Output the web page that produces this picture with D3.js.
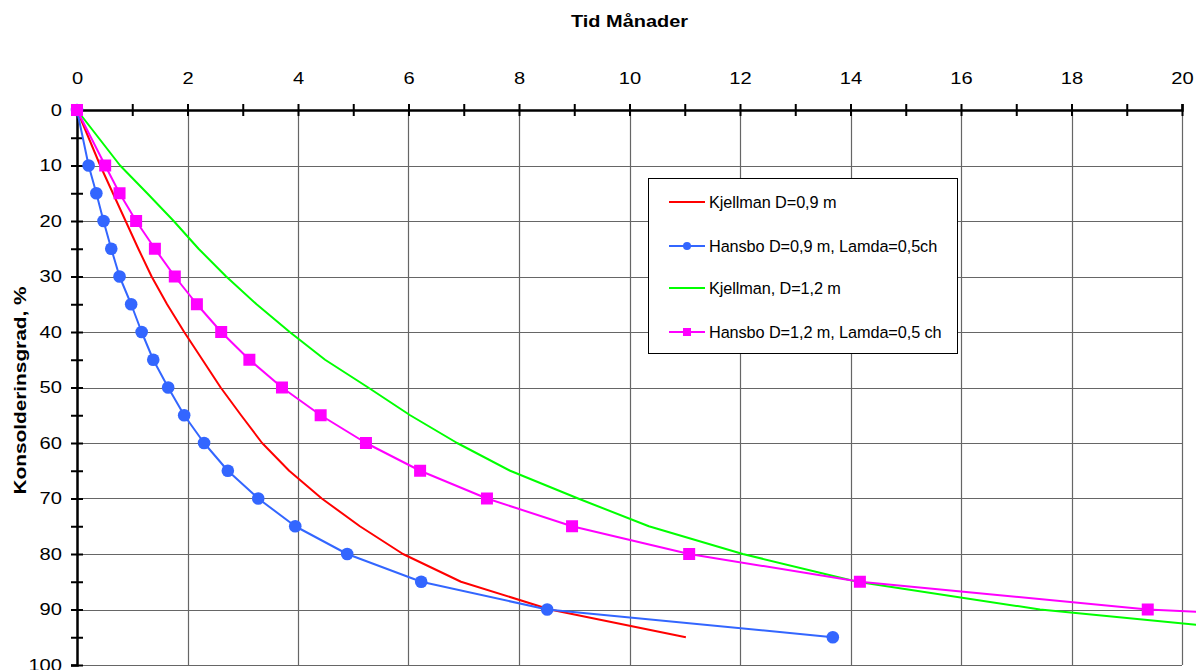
<!DOCTYPE html>
<html>
<head>
<meta charset="utf-8">
<script src="https://cdn.jsdelivr.net/npm/d3@7"></script>
<style>
  body { margin: 0; background: #fff; }
  svg { display: block; }
  text { font-family: "Liberation Sans", Arial, sans-serif; fill: #000; }
</style>
</head>
<body>
<svg id="chart-container" width="1196" height="670"></svg>
<script>
// Konsolideringsgrad (%) and time in months
var pctSteps = [0, 10, 15, 20, 25, 30, 35, 40, 45, 50, 55, 60, 65, 70, 75, 80, 85, 90, 95];

var kjellman09 = [0, 0.42, 0.65, 0.88, 1.11, 1.35, 1.63, 1.94, 2.27, 2.6, 2.97, 3.35, 3.84, 4.43, 5.12, 5.9, 6.95, 8.56, 11.02];
var hansbo09   = [0, 0.21, 0.35, 0.48, 0.62, 0.77, 0.98, 1.17, 1.38, 1.65, 1.94, 2.3, 2.73, 3.28, 3.95, 4.89, 6.23, 8.51, 13.68];
var kjellman12 = [0, 0.78, 1.27, 1.75, 2.2, 2.7, 3.25, 3.85, 4.49, 5.27, 6.03, 6.88, 7.84, 9.07, 10.35, 12.05, 14.12, 17.43, 22.6];
var hansbo12   = [0, 0.51, 0.77, 1.07, 1.41, 1.77, 2.17, 2.61, 3.12, 3.71, 4.41, 5.23, 6.21, 7.42, 8.96, 11.08, 14.17, 19.38, 30.4];

var seriesNames = ["Kjellman D=0,9 m", "Hansbo D=0,9 m, Lamda=0,5ch", "Kjellman, D=1,2 m", "Hansbo D=1,2 m, Lamda=0,5 ch"];
var seriesColors = ["#ff0000", "#3366ff", "#00ff00", "#ff00ff"];
var seriesMarkers = ["none", "circle", "none", "square"];

var xMajorTicks = [0, 2, 4, 6, 8, 10, 12, 14, 16, 18, 20];
var xMinorTicks = [1, 3, 5, 7, 9, 11, 13, 15, 17, 19];
var yMajorTicks = [0, 10, 20, 30, 40, 50, 60, 70, 80, 90, 100];
var yMinorTicks = [5, 15, 25, 35, 45, 55, 65, 75, 85, 95];

var svg = d3.select("#chart-container");
var margin = { top: 110, left: 77 };
var width = 1105, height = 555;

var x = d3.scaleLinear().domain([0, 20]).range([margin.left, margin.left + width]);
var y = d3.scaleLinear().domain([0, 100]).range([margin.top, margin.top + height]);

// Grid
var grid = svg.append("g").attr("stroke", "#666").attr("stroke-width", 1.2);
grid.selectAll(".vg")
    .data(xMajorTicks.slice(1))
    .join("line")
    .attr("x1", d => Math.round(x(d)) + 0.5)
    .attr("x2", d => Math.round(x(d)) + 0.5)
    .attr("y1", y(0))
    .attr("y2", y(100));
grid.selectAll(".hg")
    .data(yMajorTicks.slice(1))
    .join("line")
    .attr("x1", x(0))
    .attr("x2", x(20))
    .attr("y1", d => Math.round(y(d)) + 0.5)
    .attr("y2", d => Math.round(y(d)) + 0.5);

// Axes (ticks cross the axis line)
var xAxis = svg.append("g")
    .attr("transform", `translate(0, ${y(0)})`)
    .call(d3.axisTop(x).tickValues(xMajorTicks.concat(xMinorTicks))
        .tickFormat(d => xMajorTicks.includes(d) ? d : "")
        .tickSizeOuter(0).tickSize(6).tickPadding(20));
xAxis.select(".domain").attr("stroke-width", 2.5);
xAxis.selectAll(".tick line").attr("y1", 6).attr("y2", -6).attr("stroke-width", 2);
xAxis.selectAll(".tick text")
    .attr("font-size", 17)
    .attr("font-family", "Liberation Sans, Arial, sans-serif")
    .attr("textLength", function() { return this.textContent.length * 11.2; })
    .attr("lengthAdjust", "spacingAndGlyphs");

var yAxis = svg.append("g")
    .attr("transform", `translate(${x(0)}, 0)`)
    .call(d3.axisLeft(y).tickValues(yMajorTicks.concat(yMinorTicks))
        .tickFormat(d => yMajorTicks.includes(d) ? d : "")
        .tickSizeOuter(0).tickSize(6).tickPadding(9));
yAxis.select(".domain").attr("stroke-width", 2.5);
yAxis.selectAll(".tick line").attr("x1", 6).attr("x2", -6).attr("stroke-width", 2);
yAxis.selectAll(".tick text")
    .attr("font-size", 17)
    .attr("font-family", "Liberation Sans, Arial, sans-serif")
    .attr("textLength", function() { return this.textContent.length * 11.2; })
    .attr("lengthAdjust", "spacingAndGlyphs");

// Titles
svg.append("text")
    .attr("x", (x(0) + x(20)) / 2)
    .attr("y", 27)
    .attr("text-anchor", "middle")
    .attr("font-size", 16.5)
    .attr("font-weight", "bold")
    .attr("textLength", 117)
    .attr("lengthAdjust", "spacingAndGlyphs")
    .text("Tid Månader");

svg.append("text")
    .attr("transform", `translate(26, ${(y(0) + y(100)) / 2 + 3}) rotate(-90)`)
    .attr("text-anchor", "middle")
    .attr("font-size", 17)
    .attr("font-weight", "bold")
    .attr("textLength", 208)
    .attr("lengthAdjust", "spacingAndGlyphs")
    .text("Konsolderinsgrad, %");

// Series
var seriesData = [kjellman09, hansbo09, kjellman12, hansbo12];
var line = d3.line().x(d => x(d[0])).y(d => y(d[1]));

seriesData.forEach(function(vals, i) {
    var pts = vals.map((v, j) => [v, pctSteps[j]]);
    var g = svg.append("g");
    g.append("path")
        .datum(pts)
        .attr("fill", "none")
        .attr("stroke", seriesColors[i])
        .attr("stroke-width", 2)
        .attr("stroke-linejoin", "round")
        .attr("d", line);
    if (seriesMarkers[i] == "circle") {
        g.selectAll("circle")
            .data(pts)
            .join("circle")
            .attr("cx", d => x(d[0]))
            .attr("cy", d => y(d[1]))
            .attr("r", 6.3)
            .attr("fill", seriesColors[i]);
    } else if (seriesMarkers[i] == "square") {
        g.selectAll("rect")
            .data(pts)
            .join("rect")
            .attr("x", d => x(d[0]) - 6)
            .attr("y", d => y(d[1]) - 6)
            .attr("width", 12)
            .attr("height", 12)
            .attr("fill", seriesColors[i]);
    }
});

// Legend
var legend = svg.append("g").attr("transform", "translate(648, 178)");
legend.append("rect")
    .attr("x", 0.5).attr("y", 0.5)
    .attr("width", 309).attr("height", 175)
    .attr("fill", "#fff")
    .attr("stroke", "#000")
    .attr("stroke-width", 1);

var rowY = [24, 68, 110, 154];
seriesNames.forEach(function(name, i) {
    var row = legend.append("g").attr("transform", `translate(0, ${rowY[i]})`);
    row.append("line")
        .attr("x1", 21).attr("x2", 57)
        .attr("stroke", seriesColors[i])
        .attr("stroke-width", 2);
    if (seriesMarkers[i] == "circle") {
        row.append("circle").attr("cx", 39).attr("r", 4).attr("fill", seriesColors[i]);
    } else if (seriesMarkers[i] == "square") {
        row.append("rect").attr("x", 35).attr("y", -4).attr("width", 8).attr("height", 8).attr("fill", seriesColors[i]);
    }
    row.append("text")
        .attr("x", 61)
        .attr("y", 5.5)
        .attr("font-size", 16.3)
        .attr("letter-spacing", -0.1)
        .text(name);
});
</script>
</body>
</html>
